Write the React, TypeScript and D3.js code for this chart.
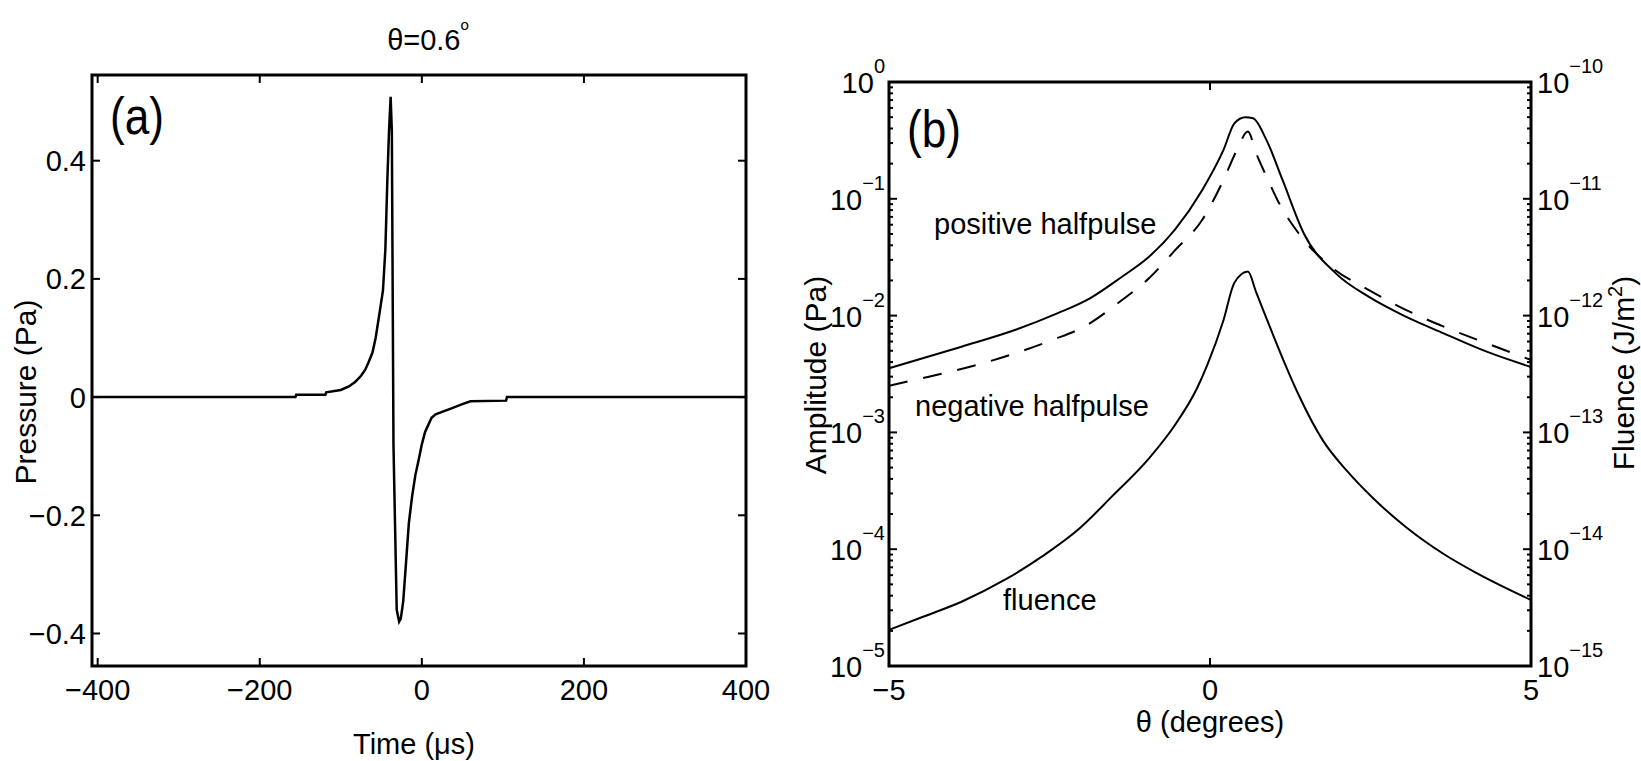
import React from 'react';
import * as d3 from 'd3';

// ---------- Panel (a): pressure waveform at theta = 0.6 deg ----------
const pressureTime = [-407, -156, -155, -119, -118, -100, -90, -82, -75, -70, -66, -61, -57, -53, -48, -45, -42.5, -40.5, -38.5, -37, -35, -31, -28, -26, -23, -19.5, -16, -12, -8, -4, 0, 4, 8, 12, 17, 25, 35, 50, 60, 104, 105, 400];
const pressureVal = [0, 0, 0.004, 0.004, 0.008, 0.012, 0.018, 0.026, 0.036, 0.046, 0.058, 0.075, 0.1, 0.135, 0.18, 0.25, 0.37, 0.45, 0.508, 0.45, -0.08, -0.36, -0.38, -0.375, -0.346, -0.28, -0.213, -0.168, -0.132, -0.107, -0.08, -0.059, -0.047, -0.035, -0.029, -0.025, -0.02, -0.012, -0.007, -0.006, 0, 0];
const timeTicks = [-400, -200, 0, 200, 400];
const pressureTicks = [-0.4, -0.2, 0, 0.2, 0.4];

// ---------- Panel (b): amplitude / fluence vs angle ----------
const thetaPos = [-5, -3.87, -3.04, -2.37, -1.87, -1.37, -0.95, -0.54, -0.12, 0.21, 0.38, 0.55, 0.67, 0.88, 1.13, 1.46, 1.96, 2.47, 3.05, 3.64, 4.31, 5];
const ampPos = [0.00354, 0.00542, 0.00753, 0.0105, 0.01406, 0.02153, 0.0319, 0.055, 0.119, 0.262, 0.443, 0.499, 0.489, 0.318, 0.145, 0.0507, 0.023, 0.01452, 0.0098, 0.00705, 0.00491, 0.00363];

const thetaNeg = [-5, -4.38, -3.63, -3.04, -2.46, -1.96, -1.37, -0.95, -0.54, -0.12, 0.21, 0.42, 0.59, 0.72, 0.88, 1.05, 1.38, 1.88, 2.47, 3.05, 3.64, 4.31, 5];
const ampNeg = [0.00251, 0.003, 0.00378, 0.00475, 0.00617, 0.00804, 0.0136, 0.0209, 0.0365, 0.0661, 0.145, 0.262, 0.376, 0.245, 0.155, 0.0977, 0.0507, 0.0263, 0.0166, 0.0112, 0.00804, 0.00579, 0.00417];

const thetaFlu = [-5, -4.47, -3.87, -3.2, -2.62, -2.03, -1.53, -0.95, -0.54, -0.2, -0.04, 0.21, 0.38, 0.59, 0.72, 0.97, 1.22, 1.38, 1.76, 2.13, 2.55, 3.05, 3.64, 4.14, 5];
const fluence = [2.04e-15, 2.64e-15, 3.55e-15, 5.45e-15, 8.63e-15, 1.51e-14, 2.82e-14, 6.0e-14, 1.17e-13, 2.4e-13, 3.8e-13, 9.12e-13, 1.91e-12, 2.38e-12, 1.58e-12, 7.1e-13, 3.3e-13, 2.1e-13, 8.5e-14, 4.7e-14, 2.7e-14, 1.55e-14, 9.1e-15, 6.3e-15, 3.67e-15];

const thetaTicks = [-5, 0, 5];
const ampExponents = [0, -1, -2, -3, -4, -5];
const fluExponents = [-10, -11, -12, -13, -14, -15];

const FONT = '"Liberation Sans", Arial, Helvetica, sans-serif';
const fmt = (v: number) => (v < 0 ? '\u2212' + Math.abs(v) : String(v));
const expStr = (e: number) => (e < 0 ? '\u2212' + Math.abs(e) : String(e));

export default function App() {
  // scales panel (a)
  const xA = d3.scaleLinear().domain([-407, 400]).range([92, 746]);
  const yA = d3.scaleLinear().domain([-0.455, 0.545]).range([666, 75]);
  // scales panel (b)
  const xB = d3.scaleLinear().domain([-5, 5]).range([889, 1531]);
  const yB = d3.scaleLog().domain([1e-5, 1]).range([666, 82]);
  const yF = d3.scaleLog().domain([1e-15, 1e-10]).range([666, 82]);

  const lineA = d3.line<number>().x((_, i) => xA(pressureTime[i])).y((d) => yA(d));
  const linePos = d3.line<number>().x((_, i) => xB(thetaPos[i])).y((d) => yB(d)).curve(d3.curveMonotoneX);
  const lineNeg = d3.line<number>().x((_, i) => xB(thetaNeg[i])).y((d) => yB(d)).curve(d3.curveMonotoneX);
  const lineFlu = d3.line<number>().x((_, i) => xB(thetaFlu[i])).y((d) => yF(d)).curve(d3.curveMonotoneX);

  const [ax0, ax1] = xA.range();
  const [ay0, ay1] = yA.range(); // 666, 75
  const [bx0, bx1] = xB.range();
  const [by0, by1] = yB.range();

  const minorB: number[] = [];
  for (let k = -5; k < 0; k++) for (let m = 2; m <= 9; m++) minorB.push(m * Math.pow(10, k));

  const TL = 8;
  const TM = 4;

  return (
    <svg width={1641} height={761} style={{ position: 'absolute', left: 0, top: 0, display: 'block', background: '#fff' }} fontFamily={FONT}>
      <rect x={0} y={0} width={1641} height={761} fill="#fff" />

      {/* ===== Panel (a) ===== */}
      <text x={428} y={50} fontSize={29} textAnchor="middle">
        θ=0.6<tspan dy={-20} fontSize={15}>o</tspan>
      </text>

      <path d={lineA(pressureVal) || ''} fill="none" stroke="#000" strokeWidth={2.5} strokeLinejoin="miter" />

      <rect x={ax0} y={ay1} width={ax1 - ax0} height={ay0 - ay1} fill="none" stroke="#000" strokeWidth={3} />

      {timeTicks.map((t) => (
        <g key={'ta' + t}>
          <line x1={xA(t)} x2={xA(t)} y1={ay0} y2={ay0 - TL} stroke="#000" strokeWidth={2} />
          <line x1={xA(t)} x2={xA(t)} y1={ay1} y2={ay1 + TL} stroke="#000" strokeWidth={2} />
          <text x={xA(t)} y={700} fontSize={29} textAnchor="middle">{fmt(t)}</text>
        </g>
      ))}
      {pressureTicks.map((p) => (
        <g key={'pa' + p}>
          <line x1={ax0} x2={ax0 + TL} y1={yA(p)} y2={yA(p)} stroke="#000" strokeWidth={2} />
          <line x1={ax1} x2={ax1 - TL} y1={yA(p)} y2={yA(p)} stroke="#000" strokeWidth={2} />
          <text x={86} y={yA(p) + 10.5} fontSize={29} textAnchor="end">{fmt(p)}</text>
        </g>
      ))}

      <text transform="translate(110,134) scale(0.85,1)" fontSize={52}>(a)</text>
      <text x={414} y={754} fontSize={29} textAnchor="middle">Time (μs)</text>
      <text transform="translate(36,392) rotate(-90)" fontSize={30} textAnchor="middle">Pressure (Pa)</text>

      {/* ===== Panel (b) ===== */}
      <path d={linePos(ampPos) || ''} fill="none" stroke="#000" strokeWidth={2} />
      <path d={lineNeg(ampNeg) || ''} fill="none" stroke="#000" strokeWidth={2} strokeDasharray="19 16" />
      <path d={lineFlu(fluence) || ''} fill="none" stroke="#000" strokeWidth={2} />

      <rect x={bx0} y={by1} width={bx1 - bx0} height={by0 - by1} fill="none" stroke="#000" strokeWidth={3} />

      {thetaTicks.map((t) => (
        <g key={'tb' + t}>
          <line x1={xB(t)} x2={xB(t)} y1={by0} y2={by0 - TL} stroke="#000" strokeWidth={2} />
          <line x1={xB(t)} x2={xB(t)} y1={by1} y2={by1 + TL} stroke="#000" strokeWidth={2} />
          <text x={xB(t)} y={700} fontSize={29} textAnchor="middle">{fmt(t)}</text>
        </g>
      ))}
      {minorB.map((v, i) => (
        <g key={'mb' + i}>
          <line x1={bx0} x2={bx0 + TM} y1={yB(v)} y2={yB(v)} stroke="#000" strokeWidth={2} />
          <line x1={bx1} x2={bx1 - TM} y1={yB(v)} y2={yB(v)} stroke="#000" strokeWidth={2} />
        </g>
      ))}
      {ampExponents.map((e) => (
        <g key={'ab' + e}>
          <line x1={bx0} x2={bx0 + TL} y1={yB(Math.pow(10, e))} y2={yB(Math.pow(10, e))} stroke="#000" strokeWidth={2} />
          <text x={885} y={yB(Math.pow(10, e)) + 11} fontSize={29} textAnchor="end">
            10<tspan dy={-20} fontSize={20}>{expStr(e)}</tspan>
          </text>
        </g>
      ))}
      {fluExponents.map((e) => (
        <g key={'fb' + e}>
          <line x1={bx1} x2={bx1 - TL} y1={yF(Math.pow(10, e))} y2={yF(Math.pow(10, e))} stroke="#000" strokeWidth={2} />
          <text x={1537} y={yF(Math.pow(10, e)) + 11} fontSize={29} textAnchor="start">
            10<tspan dy={-20} fontSize={20}>{expStr(e)}</tspan>
          </text>
        </g>
      ))}

      <text transform="translate(907,147) scale(0.85,1)" fontSize={52}>(b)</text>
      <text x={934} y={234} fontSize={29}>positive halfpulse</text>
      <text x={915} y={416} fontSize={29}>negative halfpulse</text>
      <text x={1003} y={610} fontSize={29}>fluence</text>
      <text x={1210} y={732} fontSize={29} textAnchor="middle">θ (degrees)</text>
      <text transform="translate(826,375) rotate(-90)" fontSize={30} textAnchor="middle">Amplitude (Pa)</text>
      <text transform="translate(1634,373) rotate(-90)" fontSize={30} textAnchor="middle">
        Fluence (J/m<tspan dy={-12} fontSize={20}>2</tspan><tspan dy={12}>)</tspan>
      </text>
    </svg>
  );
}
